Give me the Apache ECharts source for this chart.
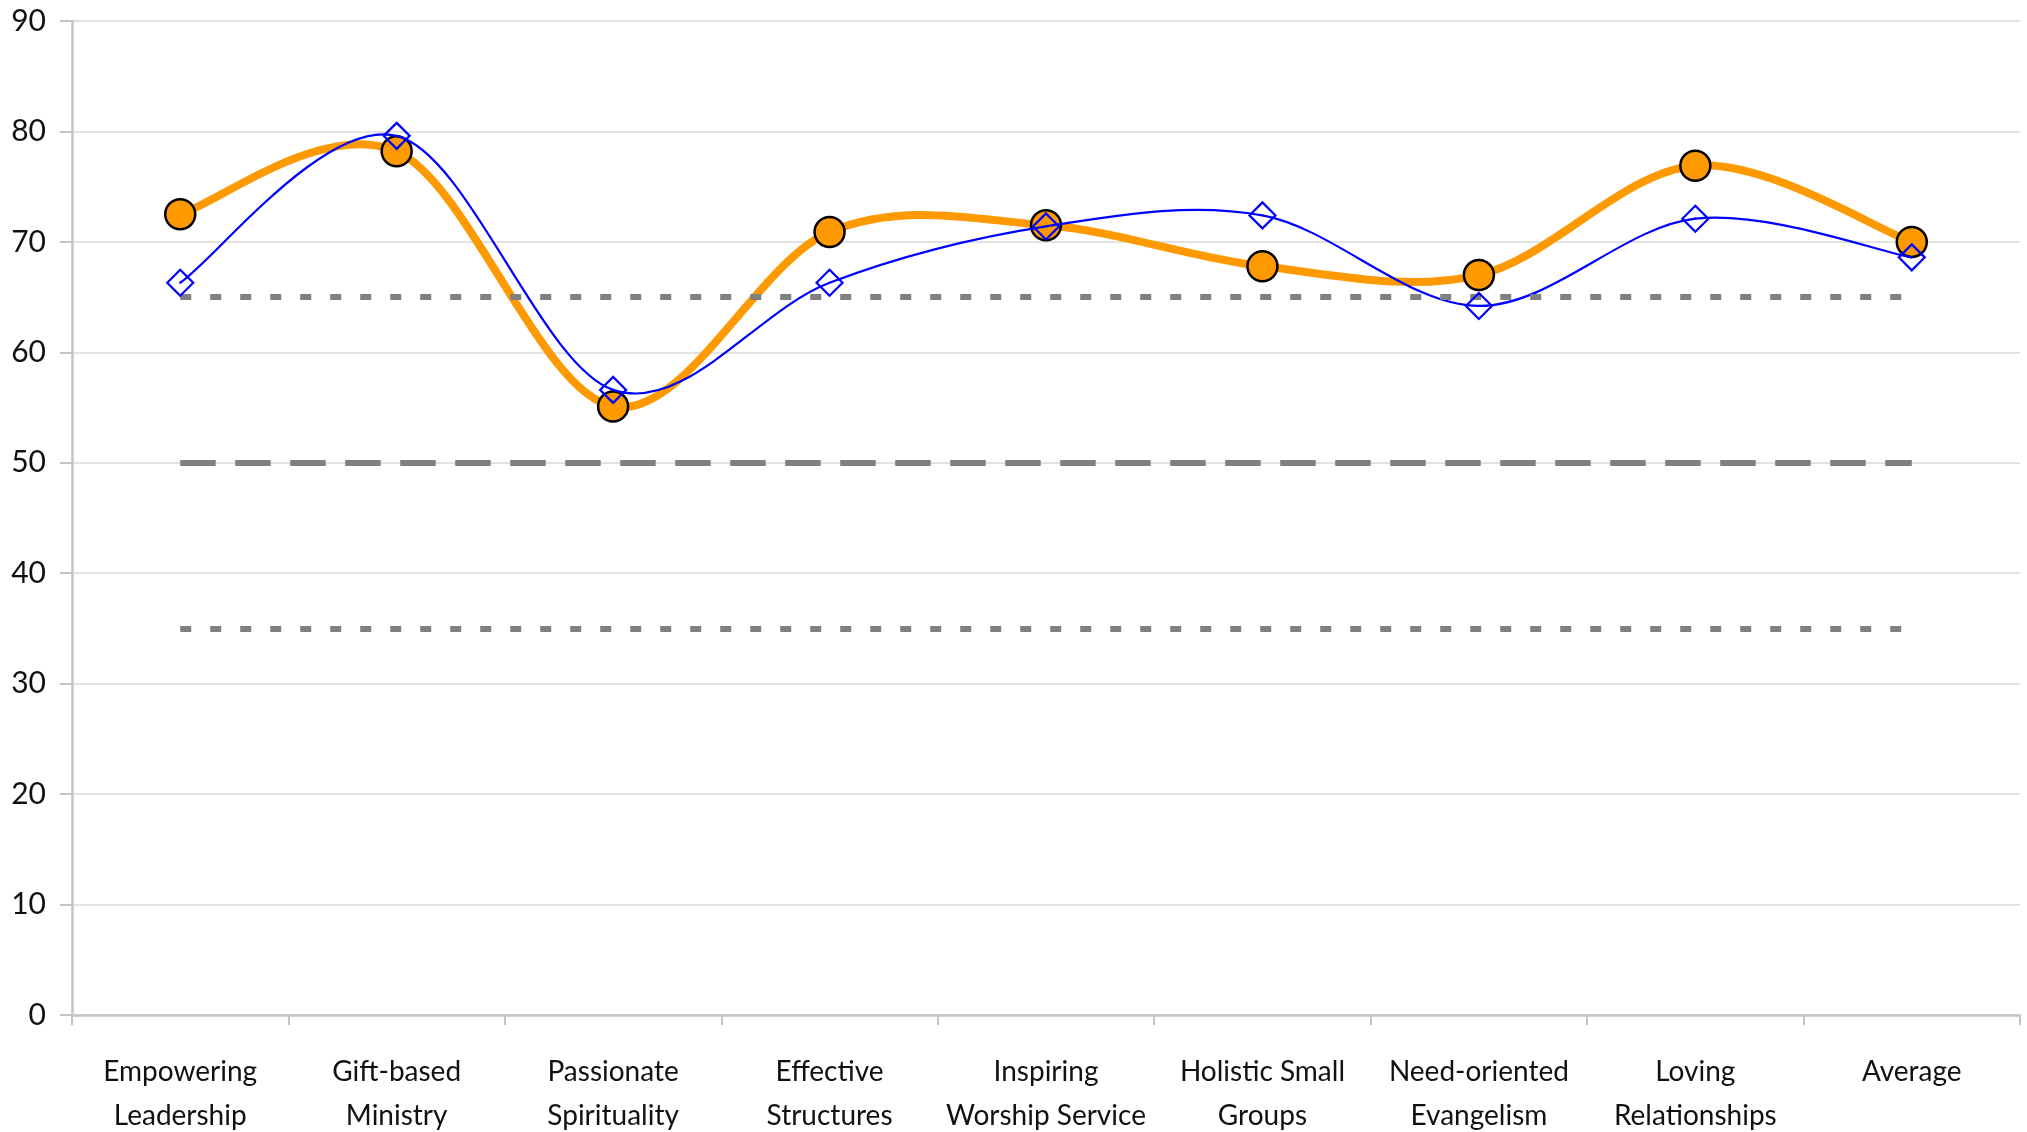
<!DOCTYPE html>
<html>
<head>
<meta charset="utf-8">
<script src="https://cdn.jsdelivr.net/npm/echarts@6/dist/echarts.min.js"></script>
<style>
html,body{margin:0;padding:0;background:#fff;}
#chart{width:2027px;height:1132px;}
</style>
</head>
<body>
<div id="chart"></div>
<script>
var categories = [
  "Empowering\nLeadership",
  "Gift-based\nMinistry",
  "Passionate\nSpirituality",
  "Effective\nStructures",
  "Inspiring\nWorship Service",
  "Holistic Small\nGroups",
  "Need-oriented\nEvangelism",
  "Loving\nRelationships",
  "Average"
];
var orangeValues = [72.5, 78.2, 55.1, 70.9, 71.5, 67.8, 67.0, 76.9, 70.0];
var blueValues = [66.3, 79.6, 56.6, 66.3, 71.4, 72.4, 64.2, 72.1, 68.6];
var upperRef = 65;
var middleRef = 50;
var lowerRef = 35;
var yTicks = { min: 0, max: 90, interval: 10 };

var FONT = 'Lato';
var chart = echarts.init(document.getElementById('chart'), null, {renderer: 'canvas'});

// Excel-like smoothed line (Catmull-Rom through the points), positioned with the axes' scales
function smoothCurve(values, color, width, z) {
  var n = values.length;
  return {
    type: 'custom',
    z: z,
    silent: true,
    data: values.map(function (v, i) { return [i, v]; }),
    encode: {x: 0, y: 1},
    renderItem: function (params, api) {
      var i = params.dataIndex;
      if (i >= n - 1) return {type: 'group', children: []};
      function pt(k) {
        k = Math.max(0, Math.min(n - 1, k));
        return api.coord([k, values[k]]);
      }
      var p0 = pt(i - 1), p1 = pt(i), p2 = pt(i + 1), p3 = pt(i + 2);
      var t = 1 / 6;
      return {
        type: 'bezierCurve',
        shape: {
          x1: p1[0], y1: p1[1],
          x2: p2[0], y2: p2[1],
          cpx1: p1[0] + (p2[0] - p0[0]) * t, cpy1: p1[1] + (p2[1] - p0[1]) * t,
          cpx2: p2[0] - (p3[0] - p1[0]) * t, cpy2: p2[1] - (p3[1] - p1[1]) * t
        },
        style: {fill: null, stroke: color, lineWidth: width, lineCap: 'round'}
      };
    }
  };
}

chart.setOption({
  animation: false,
  backgroundColor: '#ffffff',
  grid: {left: 72, right: 7, top: 21, bottom: 117, containLabel: false, outerBoundsMode: 'none'},
  xAxis: {
    type: 'category',
    data: categories,
    boundaryGap: true,
    axisLine: {show: true, lineStyle: {color: '#c4c4c4', width: 2.5}},
    axisTick: {show: true, length: 10, lineStyle: {color: '#c4c4c4', width: 2}},
    axisLabel: {
      interval: 0, margin: 35, color: '#111', fontFamily: FONT, fontSize: 28, lineHeight: 44
    },
    splitLine: {show: false}
  },
  yAxis: {
    type: 'value',
    min: yTicks.min, max: yTicks.max, interval: yTicks.interval,
    axisLine: {show: true, lineStyle: {color: '#c4c4c4', width: 2.5}},
    axisTick: {show: true, length: 12, lineStyle: {color: '#c4c4c4', width: 2}},
    axisLabel: {margin: 26, color: '#111', fontFamily: FONT, fontSize: 30},
    splitLine: {show: true, lineStyle: {color: '#d9d9d9', width: 1.5}}
  },
  series: [
    {
      name: 'refs',
      type: 'line',
      data: [],
      z: 1,
      silent: true,
      markLine: {
        silent: true,
        symbol: ['none', 'none'],
        label: {show: false},
        animation: false,
        lineStyle: {color: '#808080', width: 6, cap: 'butt'},
        data: [
          [
            {coord: [categories[0], upperRef], lineStyle: {type: [11, 19], color: '#808080', width: 6, cap: 'butt'}},
            {coord: [categories[categories.length - 1], upperRef]}
          ],
          [
            {coord: [categories[0], middleRef], lineStyle: {type: [35.5, 19.5], color: '#808080', width: 6, cap: 'butt'}},
            {coord: [categories[categories.length - 1], middleRef]}
          ],
          [
            {coord: [categories[0], lowerRef], lineStyle: {type: [11, 19], color: '#808080', width: 6, cap: 'butt'}},
            {coord: [categories[categories.length - 1], lowerRef]}
          ]
        ]
      }
    },
    smoothCurve(orangeValues, '#ff9900', 8, 2),
    {
      name: 'Orange',
      type: 'line',
      data: orangeValues,
      z: 3,
      symbol: 'circle',
      symbolSize: 30,
      showAllSymbol: true,
      lineStyle: {opacity: 0, width: 0},
      itemStyle: {color: '#ff9900', borderColor: '#000000', borderWidth: 2.5}
    },
    smoothCurve(blueValues, '#0000ff', 2.2, 4),
    {
      name: 'Blue',
      type: 'line',
      data: blueValues,
      z: 5,
      symbol: 'diamond',
      symbolSize: 26,
      showAllSymbol: true,
      lineStyle: {opacity: 0, width: 0},
      itemStyle: {color: 'rgba(255,255,255,0)', borderColor: '#0000ff', borderWidth: 2.2}
    }
  ]
});
</script>
</body>
</html>
